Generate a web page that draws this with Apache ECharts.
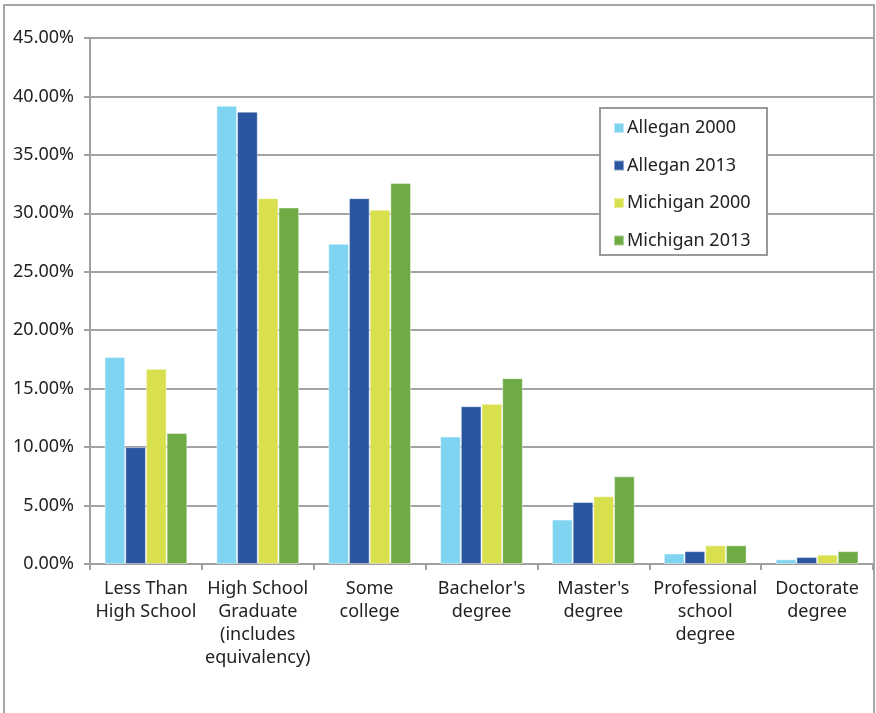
<!DOCTYPE html>
<html>
<head>
<meta charset="utf-8">
<script src="https://cdn.jsdelivr.net/npm/echarts@6/dist/echarts.min.js"></script>
<style>
html,body{margin:0;padding:0;background:#fff;}
#chart{width:876px;height:713px;}
</style>
</head>
<body>
<div id="chart"></div>
<script>
const categories = ["Less Than\nHigh School", "High School\nGraduate\n(includes\nequivalency)", "Some\ncollege", "Bachelor's\ndegree", "Master's\ndegree", "Professional\nschool\ndegree", "Doctorate\ndegree"];
const seriesNames = ["Allegan 2000", "Allegan 2013", "Michigan 2000", "Michigan 2013"];
const allegan2000 = [17.7, 39.2, 27.4, 10.9, 3.8, 0.9, 0.4];
const allegan2013 = [10.0, 38.7, 31.3, 13.5, 5.3, 1.1, 0.6];
const michigan2000 = [16.7, 31.3, 30.3, 13.7, 5.8, 1.6, 0.8];
const michigan2013 = [11.2, 30.5, 32.6, 15.9, 7.5, 1.6, 1.1];
const yTicks = [0, 5, 10, 15, 20, 25, 30, 35, 40, 45];
const colors = ["#7fd4f2", "#2a56a0", "#d9e04e", "#6fab45"];

const FONT = "Noto Sans";
const chart = echarts.init(document.getElementById('chart'), null, {renderer: 'canvas'});
const dataSets = [allegan2000, allegan2013, michigan2000, michigan2013];

chart.setOption({
  backgroundColor: '#fff',
  animation: false,
  textStyle: {fontFamily: FONT},
  graphic: [
    {type: 'rect', shape: {x: 4, y: 5, width: 870, height: 760}, style: {fill: 'none', stroke: '#a6a6a6', lineWidth: 2}, z: 0},
    {type: 'rect', shape: {x: 600, y: 108, width: 167, height: 147}, style: {fill: '#fff', stroke: '#9a9a9a', lineWidth: 2}, z: 5}
  ],
  legend: {
    orient: 'vertical',
    left: 600,
    top: 108,
    padding: [10, 10, 5, 13],
    itemWidth: 10,
    itemHeight: 10,
    itemGap: 17.5,
    icon: 'rect',
    z: 10,
    textStyle: {fontSize: 18, color: '#222', fontFamily: FONT, lineHeight: 20, padding: [0, 0, 0, -2]},
    data: seriesNames
  },
  grid: {left: 90, top: 38, right: 3, bottom: 149, containLabel: false},
  xAxis: {
    type: 'category',
    data: categories,
    axisLine: {show: true, lineStyle: {color: '#a0a0a0', width: 2}},
    axisTick: {show: true, length: 6, lineStyle: {color: '#a0a0a0', width: 2}},
    axisLabel: {fontSize: 18, color: '#222', lineHeight: 23, margin: 13, interval: 0, fontFamily: FONT}
  },
  yAxis: {
    type: 'value',
    min: 0,
    max: 45,
    interval: 5,
    axisLine: {show: true, lineStyle: {color: '#a0a0a0', width: 2}},
    axisTick: {show: true, length: 6, lineStyle: {color: '#a0a0a0', width: 2}},
    splitLine: {show: true, lineStyle: {color: '#a3a3a3', width: 2}},
    axisLabel: {
      fontSize: 18, color: '#222', margin: 16, fontFamily: FONT,
      formatter: v => yTicks.indexOf(v) >= 0 ? v.toFixed(2) + '%' : ''
    }
  },
  series: seriesNames.map((name, i) => ({
    name: name,
    type: 'bar',
    data: dataSets[i],
    barGap: '0%',
    barCategoryGap: '26%',
    itemStyle: {color: colors[i], borderColor: 'rgba(255,255,255,0.45)', borderWidth: 1}
  }))
});
</script>
</body>
</html>
